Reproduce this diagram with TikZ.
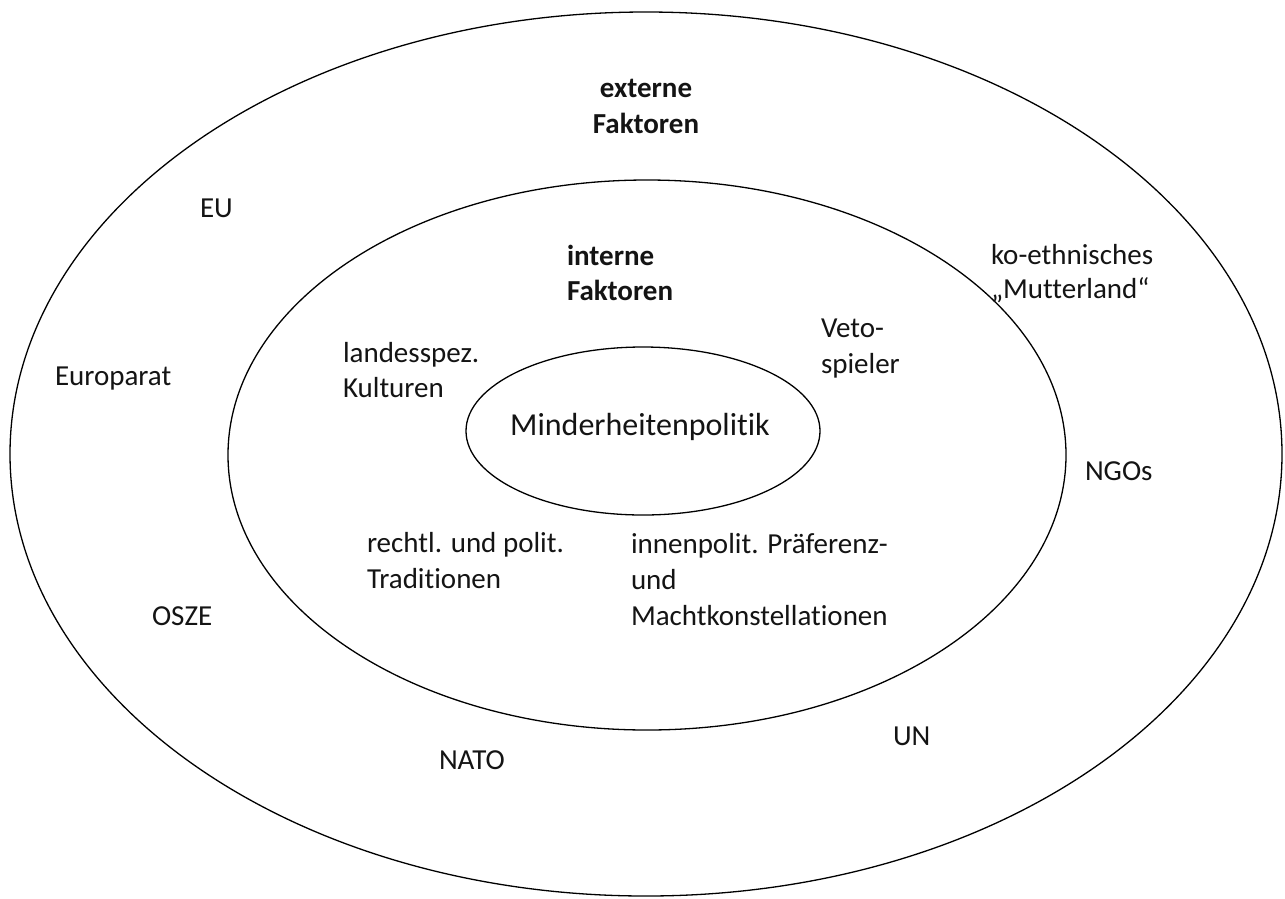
\documentclass[tikz,border=0pt]{standalone}
\usepackage{fontspec}
\setmainfont{Carlito}[Ligatures={NoCommon}]
\begin{document}
\begin{tikzpicture}[x=1pt,y=-1pt,
  ring/.style={draw=black,line width=1.3pt},
  lbl/.style={anchor=base west,inner sep=0pt,outer sep=0pt,font=\fontsize{29}{35}\selectfont,text=black!92},
  hdr/.style={lbl,font=\fontsize{29}{35}\selectfont\bfseries},
  core/.style={anchor=base,inner sep=0pt,font=\fontsize{32}{38}\selectfont,text=black!92}]
\useasboundingbox (0,0) rectangle (1285,898);
\fill[white] (0,0) rectangle (1285,898);
% rings
\coordinate (c0) at (646,454);
\coordinate (c1) at (647,455);
\coordinate (c2) at (643,431);
\draw[ring] (c0) ellipse [x radius=636pt, y radius=442pt];
\draw[ring] (c1) ellipse [x radius=419pt, y radius=275pt];
\draw[ring] (c2) ellipse [x radius=177pt, y radius=84pt];
% centre
\node[core] (mp) at (640,435) {Minderheitenpolitik};
% headers
\node[hdr,anchor=base] (ext1) at (646,97) {externe};
\node[hdr,anchor=base] (ext2) at (646,133) {Faktoren};
\node[hdr] (int1) at (567,265) {interne};
\node[hdr] (int2) at (567,300) {Faktoren};
% internal factors
\node[lbl] (lk1) at (343,362) {landesspez.};
\node[lbl] (lk2) at (343,397) {Kulturen};
\node[lbl] (vs1) at (821,337) {Veto-};
\node[lbl] (vs2) at (821,373) {spieler};
\node[lbl] (rp1) at (367,552) {rechtl. und polit.};
\node[lbl] (rp2) at (367,588) {Traditionen};
\node[lbl] (ip1) at (631,553) {innenpolit. Präferenz-};
\node[lbl] (ip2) at (631,589) {und};
\node[lbl] (ip3) at (631,625) {Machtkonstellationen};
% external factors
\node[lbl] (eu) at (200,217) {EU};
\node[lbl] (ea) at (55,385) {Europarat};
\node[lbl] (os) at (152,625) {OSZE};
\node[lbl] (na) at (439,769) {NATO};
\node[lbl] (un) at (893,745) {UN};
\node[lbl] (ng) at (1085,480) {NGOs};
\node[lbl] (ko1) at (991,264) {ko-ethnisches};
\node[lbl] (ko2) at (991,298) {„Mutterland“};
\end{tikzpicture}
\end{document}
